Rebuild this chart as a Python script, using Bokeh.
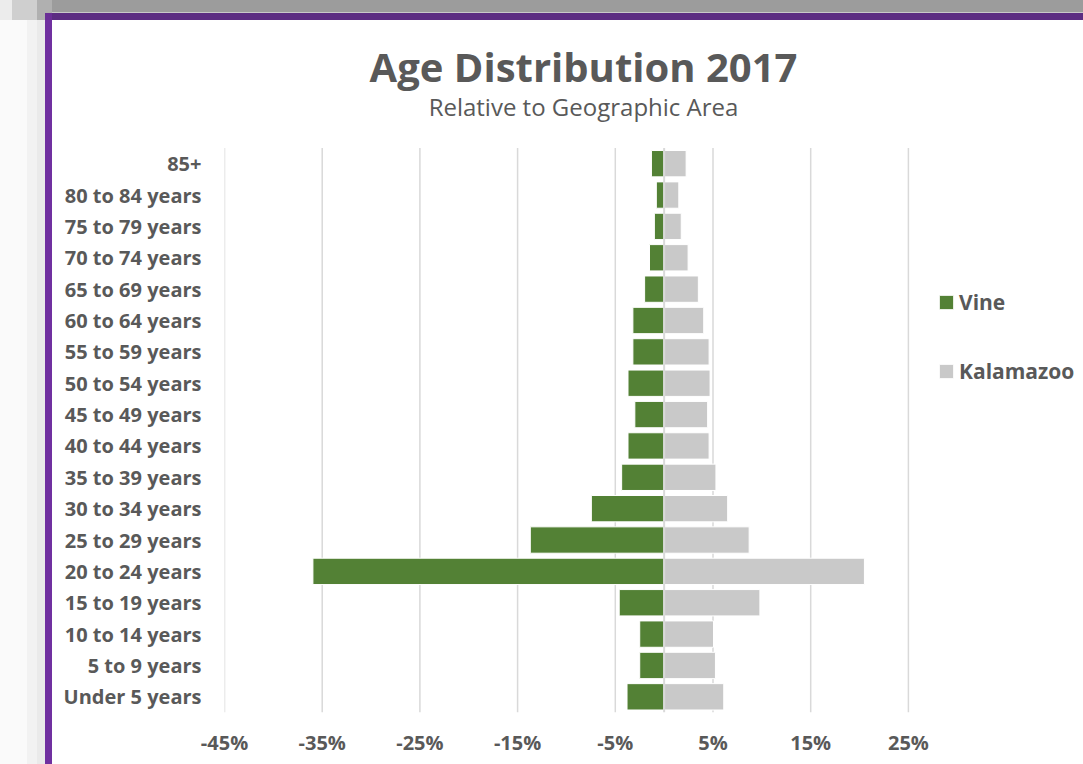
from bokeh.plotting import figure
from bokeh.models import (Range1d, FixedTicker, NumeralTickFormatter, Label, Legend,
                          LegendItem, ColumnDataSource)
from bokeh.embed import file_html
from bokeh.resources import INLINE

# ---- data (percent) ----
age_groups = ["85+", "80 to 84 years", "75 to 79 years", "70 to 74 years", "65 to 69 years",
              "60 to 64 years", "55 to 59 years", "50 to 54 years", "45 to 49 years",
              "40 to 44 years", "35 to 39 years", "30 to 34 years", "25 to 29 years",
              "20 to 24 years", "15 to 19 years", "10 to 14 years", "5 to 9 years",
              "Under 5 years"]
vine_pct = [-1.3, -0.8, -1.0, -1.5, -2.0, -3.2, -3.2, -3.7, -3.0, -3.7, -4.35, -7.45,
            -13.7, -35.95, -4.6, -2.5, -2.5, -3.8]
kalamazoo_pct = [2.25, 1.5, 1.75, 2.45, 3.5, 4.05, 4.6, 4.7, 4.45, 4.6, 5.3, 6.5,
                 8.7, 20.5, 9.8, 5.05, 5.25, 6.1]
x_tick_pct = [-45, -35, -25, -15, -5, 5, 15, 25]
series_names = ["Vine", "Kalamazoo"]
title_text = "Age Distribution 2017"
subtitle_text = "Relative to Geographic Area"

GREEN = "#538135"
GREY = "#c9c9c9"
TEXT = "#595959"
GRID = "#d9d9d9"

n = len(age_groups)
ypos = [n - i - 0.5 for i in range(n)]          # category slot centres, first at top
src = ColumnDataSource(dict(
    age=age_groups, y=ypos,
    vine=[v / 100 for v in vine_pct],
    kal=[k / 100 for k in kalamazoo_pct],
))

# geometry of the drawing canvas (figure placed at page x=52, y=20 via CSS margin)
W, H = 1031, 744
FRAME_L, FRAME_B = 172, 692          # canvas px of plot frame left / bottom
PX_PER_UNIT = 977.0                  # px per 100 %
PX_PER_CAT = 31.36

x_start = x_tick_pct[0] / 100
x_end = x_start + (W - FRAME_L) / PX_PER_UNIT
y_end = FRAME_B / PX_PER_CAT

p = figure(width=W, height=H,
           x_range=Range1d(x_start, x_end), y_range=Range1d(0, y_end),
           output_backend="svg", toolbar_location=None,
           min_border_left=FRAME_L, min_border_right=0,
           min_border_top=0, min_border_bottom=H - FRAME_B)
p.background_fill_color = "white"
p.border_fill_color = "white"
p.outline_line_color = None
p.xgrid.grid_line_color = None
p.ygrid.grid_line_color = None

p.styles = {
    "margin-left": "52px",
    "margin-top": "20px",
    "box-shadow": ("0 -7px 0 0 #5c2d82, -7px 0 0 0 #7030a0, -7px -7px 0 0 #6a2f96, "
                   "0 -8px 0 0 #c9c9c9, 0 -20px 0 0 #9c9c9c, "
                   "-15px 0 0 0 #eaeaea, -25px 0 0 0 #f2f2f2, -52px 0 0 0 #fafafa, "
                   "-15px -20px 0 0 #b0b0b0, -40px -20px 0 0 #cfcfcf, -52px -20px 0 0 #ececec"),
}

# vertical grid lines only across the category area
ticks = [t / 100 for t in x_tick_pct]
p.segment(x0=ticks, x1=ticks, y0=[0] * len(ticks), y1=[n] * len(ticks),
          line_color=GRID, line_width=1.5)

r_vine = p.hbar(y="y", left="vine", right=0, height=0.84, source=src,
                fill_color=GREEN, line_color="white", line_width=1)
r_kal = p.hbar(y="y", left=0, right="kal", height=0.84, source=src,
               fill_color=GREY, line_color="white", line_width=1)

# category axis line at zero
p.segment(x0=[0], x1=[0], y0=[0], y1=[n], line_color=GRID, line_width=2)

p.xaxis.ticker = FixedTicker(ticks=ticks)
p.xaxis.formatter = NumeralTickFormatter(format="0%")
p.yaxis.ticker = FixedTicker(ticks=ypos)
p.yaxis.major_label_overrides = {y: a for y, a in zip(ypos, age_groups)}

for ax, standoff in ((p.xaxis, 10), (p.yaxis, 17)):
    ax.axis_line_color = None
    ax.major_tick_line_color = None
    ax.minor_tick_line_color = None
    ax.major_label_text_font = "Open Sans"
    ax.major_label_text_font_style = "bold"
    ax.major_label_text_font_size = "20px"
    ax.major_label_text_color = TEXT
    ax.major_label_standoff = standoff

# title / subtitle (screen units measured from the frame's bottom-left)
p.add_layout(Label(x=359, y=646, x_units="screen", y_units="screen", text=title_text,
                   text_align="center", text_baseline="alphabetic", text_font="Open Sans",
                   text_font_style="bold", text_font_size="40px", text_color=TEXT))
p.add_layout(Label(x=359, y=606, x_units="screen", y_units="screen", text=subtitle_text,
                   text_align="center", text_baseline="alphabetic", text_font="Open Sans",
                   text_font_size="24px", text_color=TEXT))

legend = Legend(items=[LegendItem(label=series_names[0], renderers=[r_vine]),
                       LegendItem(label=series_names[1], renderers=[r_kal])],
                location=(713, 327), border_line_color=None, background_fill_alpha=0,
                padding=0, margin=0, spacing=41, label_standoff=4,
                glyph_width=18, glyph_height=18, label_height=28,
                label_text_font="Open Sans", label_text_font_style="bold",
                label_text_font_size="21px", label_text_color=TEXT)
p.add_layout(legend)

open("out.html", "w").write(file_html(p, INLINE))
